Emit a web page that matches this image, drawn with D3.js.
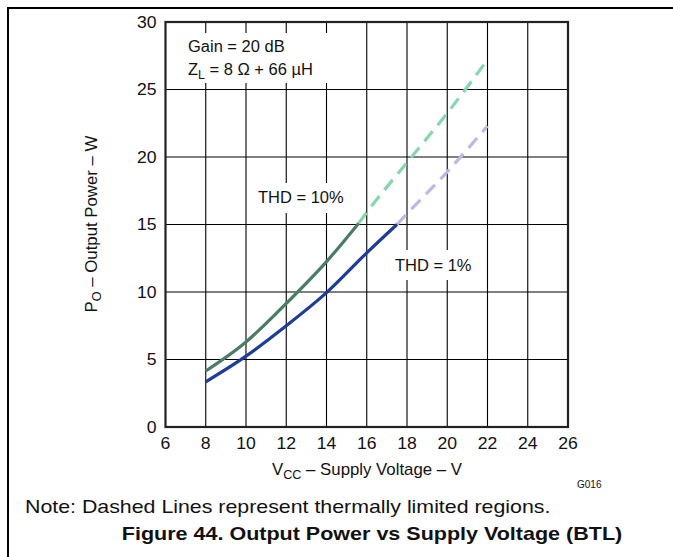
<!DOCTYPE html>
<html><head><meta charset="utf-8">
<script src="https://cdn.jsdelivr.net/npm/d3@7"></script>
<style>
html,body{margin:0;padding:0;background:#fff;}
svg text{font-family:"Liberation Sans",Arial,sans-serif;fill:#111;}
</style></head>
<body><svg id="c" width="673" height="557"></svg>
<script>
const xTicks = [6,8,10,12,14,16,18,20,22,24,26];
const yTicks = [0,5,10,15,20,25,30];
const thd10SolidX = [8,10,12,14,15.6];
const thd10SolidY = [4.15,6.3,9.15,12.25,15.1];
const thd10DashX = [15.6,16,18,20,21.9];
const thd10DashY = [15.1,15.9,19.6,23.25,27.0];
const thd1SolidX = [8,10,12,14,16,17.5];
const thd1SolidY = [3.35,5.25,7.5,9.95,12.9,15.0];
const thd1DashX = [17.5,18,20,22];
const thd1DashY = [15.0,15.8,18.9,22.3];

const svg = d3.select("#c");
const L=165.5, R=568, T=22, B=427;
const x = d3.scaleLinear().domain([6,26]).range([L,R]);
const y = d3.scaleLinear().domain([0,30]).range([B,T]);

// stretched text helper
function txt(px,py,size,sx,anchor,bold,rot){
  const t = svg.append("text")
    .attr("transform",`translate(${px},${py})`+(rot?` rotate(${rot})`:"")+` scale(${sx},1)`)
    .attr("font-size",size).attr("text-anchor",anchor||"start");
  if(bold) t.attr("font-weight","bold");
  return t;
}

// outer frame
svg.append("path").attr("d","M8,557 L8,8 L673,8").attr("fill","none").attr("stroke","#000").attr("stroke-width",2);

// grid
const g = svg.append("g");
g.selectAll(".vg").data(xTicks.slice(1,-1)).join("line")
  .attr("x1",d=>x(d)).attr("x2",d=>x(d)).attr("y1",T).attr("y2",B)
  .attr("stroke","#000").attr("stroke-width",1.1);
g.selectAll(".hg").data(yTicks.slice(1,-1)).join("line")
  .attr("y1",d=>y(d)).attr("y2",d=>y(d)).attr("x1",L).attr("x2",R)
  .attr("stroke","#000").attr("stroke-width",1.1);

// white boxes behind annotations
const boxes = [[172,33,172,50],[252,183,98,30],[389,250,92,30]];
svg.selectAll(".bx").data(boxes).join("rect")
  .attr("x",d=>d[0]).attr("y",d=>d[1]).attr("width",d=>d[2]).attr("height",d=>d[3]).attr("fill","#fff");

// tick labels
xTicks.forEach(d=>txt(x(d),B+22,16,1.1,"middle").text(d));
yTicks.forEach(d=>txt(L-9,y(d)+5.5,16,1.1,"end").text(d));

// curves
const line = d3.line().x(d=>x(d[0])).y(d=>y(d[1])).curve(d3.curveMonotoneX);
const zip=(a,b)=>a.map((v,i)=>[v,b[i]]);
const series = [
  {d:zip(thd10DashX,thd10DashY), c:"#86d6ae", dash:"13,8"},
  {d:zip(thd1DashX,thd1DashY), c:"#babae2", dash:"13,8"},
  {d:zip(thd10SolidX,thd10SolidY), c:"#4b7d66", dash:null},
  {d:zip(thd1SolidX,thd1SolidY), c:"#1f3d96", dash:null}
];
svg.selectAll(".crv").data(series).join("path")
  .attr("d",s=>line(s.d)).attr("fill","none").attr("stroke",s=>s.c)
  .attr("stroke-width",3.2).attr("stroke-dasharray",s=>s.dash);

// plot border
svg.append("rect").attr("x",L).attr("y",T).attr("width",R-L).attr("height",B-T)
  .attr("fill","none").attr("stroke","#222").attr("stroke-width",2.2);

// annotations
txt(188,52,16,1.03).text("Gain = 20 dB");
const zl = txt(188,75,16,1.03);
zl.append("tspan").text("Z");
zl.append("tspan").attr("font-size",12).attr("dy",4).text("L");
zl.append("tspan").attr("dy",-4).text(" = 8 Ω + 66 µH");
txt(258,203,16,1.03).text("THD = 10%");
txt(395,271,16,1.03).text("THD = 1%");

// axis titles
const xt = txt(367,475,16,1.05,"middle");
xt.append("tspan").text("V");
xt.append("tspan").attr("font-size",12).attr("dy",4).text("CC");
xt.append("tspan").attr("dy",-4).text(" – Supply Voltage – V");
const yt = txt(97,224,16,1.05,"middle",false,-90);
yt.append("tspan").text("P");
yt.append("tspan").attr("font-size",12).attr("dy",4).text("O");
yt.append("tspan").attr("dy",-4).text(" – Output Power – W");

txt(577,488,10,1.0).text("G016");
txt(25,513,18,1.186).text("Note: Dashed Lines represent thermally limited regions.");
txt(372,540,18,1.196,"middle",true).text("Figure 44. Output Power vs Supply Voltage (BTL)");
</script></body></html>
